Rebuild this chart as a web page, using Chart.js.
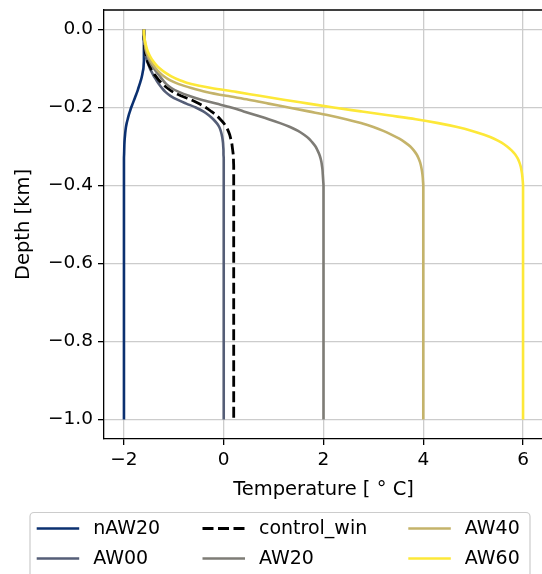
<!DOCTYPE html>
<html>
<head>
<meta charset="utf-8">
<title>Temperature profiles</title>
<script src="https://cdn.jsdelivr.net/npm/chart.js@4.4.0/dist/chart.umd.min.js"></script>
<style>
  html, body { margin: 0; padding: 0; background: #fff; overflow: hidden; }
  canvas { display: block; }
</style>
</head>
<body>
<canvas id="profiles" width="550" height="574"></canvas>
<script>
// depth levels in km (positive downward), shared by every run
const depth = [0, 0.01, 0.02, 0.03, 0.04, 0.05, 0.06, 0.07, 0.08, 0.09,
               0.10, 0.11, 0.12, 0.13, 0.14, 0.15, 0.16, 0.17, 0.18, 0.19,
               0.20, 0.21, 0.22, 0.23, 0.24, 0.25, 0.26, 0.27, 0.28, 0.29,
               0.30, 0.31, 0.32, 0.33, 0.34, 0.35, 0.36, 0.37, 0.38, 0.39,
               0.40, 0.5, 0.6, 0.8, 1.0];

// temperature (°C) at each depth level
const tempNAW20 = [-1.6, -1.6, -1.6, -1.6, -1.6, -1.6, -1.6, -1.6, -1.6, -1.605,
                   -1.61, -1.625, -1.64, -1.66, -1.685, -1.71, -1.735, -1.765, -1.795, -1.825,
                   -1.855, -1.88, -1.905, -1.925, -1.945, -1.96, -1.97, -1.978, -1.985, -1.99,
                   -1.993, -1.995, -1.997, -2, -2, -2, -2, -2, -2, -2,
                   -2, -2, -2, -2, -2];
const tempAW00 = [-1.6, -1.6, -1.6, -1.595, -1.59, -1.58, -1.57, -1.56, -1.54, -1.51,
                  -1.48, -1.44, -1.4, -1.35, -1.3, -1.24, -1.17, -1.07, -0.93, -0.75,
                  -0.56, -0.41, -0.3, -0.21, -0.14, -0.09, -0.06, -0.04, -0.025, -0.015,
                  -0.01, -0.005, -0.005, 0, 0, 0, 0, 0, 0, 0,
                  0, 0, 0, 0, 0];
const tempControl = [-1.6, -1.6, -1.6, -1.595, -1.59, -1.58, -1.57, -1.55, -1.53, -1.5,
                     -1.46, -1.42, -1.36, -1.3, -1.22, -1.13, -1.02, -0.86, -0.66, -0.5,
                     -0.36, -0.25, -0.15, -0.07, 0.0, 0.05, 0.09, 0.12, 0.14, 0.16,
                     0.17, 0.18, 0.19, 0.195, 0.197, 0.2, 0.2, 0.2, 0.2, 0.2,
                     0.2, 0.2, 0.2, 0.2, 0.2];
const tempAW20 = [-1.6, -1.6, -1.6, -1.59, -1.58, -1.57, -1.55, -1.52, -1.49, -1.45,
                  -1.4, -1.34, -1.28, -1.22, -1.15, -1.05, -0.9, -0.7, -0.45, -0.15,
                  0.15, 0.4, 0.65, 0.9, 1.13, 1.33, 1.49, 1.61, 1.71, 1.78,
                  1.84, 1.88, 1.915, 1.94, 1.958, 1.97, 1.98, 1.985, 1.99, 1.995,
                  2, 2, 2, 2, 2];
const tempAW40 = [-1.6, -1.6, -1.59, -1.58, -1.57, -1.555, -1.54, -1.51, -1.47, -1.42,
                  -1.36, -1.29, -1.2, -1.08, -0.9, -0.65, -0.35, 0.05, 0.5, 0.9,
                  1.3, 1.7, 2.1, 2.45, 2.75, 3.0, 3.2, 3.37, 3.52, 3.64,
                  3.74, 3.81, 3.865, 3.905, 3.935, 3.955, 3.97, 3.982, 3.99, 3.995,
                  4, 4, 4, 4, 4];
const tempAW60 = [-1.6, -1.6, -1.59, -1.58, -1.56, -1.54, -1.51, -1.47, -1.42, -1.36,
                  -1.28, -1.18, -1.05, -0.88, -0.65, -0.25, 0.25, 0.72, 1.2, 1.7,
                  2.2, 2.75, 3.3, 3.85, 4.3, 4.68, 4.98, 5.22, 5.42, 5.57,
                  5.68, 5.77, 5.84, 5.89, 5.925, 5.95, 5.967, 5.98, 5.988, 5.995,
                  6, 6, 6, 6, 6];

const xTicks = [-2, 0, 2, 4, 6];
const yTicks = [0, -0.2, -0.4, -0.6, -0.8, -1.0];

// legend columns, top to bottom
const legendCols = [['nAW20', 'AW00'], ['control_win', 'AW20'], ['AW40', 'AW60']];

const FONT = "'DejaVu Sans', sans-serif";
const minus = s => s.replace('-', '\u2212');

// later runs are drawn over earlier ones
function profile(label, temps, color, layer, dash) {
  return {
    label: label,
    data: depth.map((d, i) => ({ x: temps[i], y: -d })),
    borderColor: color,
    borderWidth: dash ? 2.8 : 2.6,
    borderDash: dash || [],
    pointRadius: 0,
    fill: false,
    order: 5 - layer,
    cubicInterpolationMode: 'monotone'
  };
}

// top and right spines
const topSpine = {
  id: 'topSpine',
  afterDatasetsDraw(chart) {
    const { ctx, chartArea } = chart;
    ctx.save();
    ctx.strokeStyle = '#000';
    ctx.lineWidth = 1.3;
    ctx.beginPath();
    ctx.moveTo(chartArea.left, chartArea.top);
    ctx.lineTo(chartArea.right, chartArea.top);
    ctx.lineTo(chartArea.right, chartArea.bottom);
    ctx.stroke();
    ctx.restore();
  }
};

// three-column legend under the x axis
const boxLegend = {
  id: 'boxLegend',
  afterDraw(chart) {
    const ctx = chart.ctx;
    const sets = chart.data.datasets;
    const handleX = [36.7, 202.5, 408.3];
    const rowY = [528.5, 558.5];
    ctx.save();
    ctx.fillStyle = '#fff';
    ctx.strokeStyle = '#cccccc';
    ctx.lineWidth = 1.2;
    ctx.beginPath();
    ctx.roundRect(30, 512.5, 500, 90, 4);
    ctx.fill();
    ctx.stroke();
    ctx.font = '19px ' + FONT;
    ctx.textBaseline = 'middle';
    legendCols.forEach((col, c) => {
      col.forEach((name, r) => {
        const ds = sets.find(s => s.label === name);
        const x0 = handleX[c], y = rowY[r];
        ctx.strokeStyle = ds.borderColor;
        ctx.lineWidth = ds.borderWidth;
        ctx.setLineDash(ds.borderDash);
        ctx.beginPath();
        ctx.moveTo(x0, y);
        ctx.lineTo(x0 + 42.5, y);
        ctx.stroke();
        ctx.setLineDash([]);
        ctx.fillStyle = '#000';
        ctx.fillText(name, x0 + 56.5, y + 1);
      });
    });
    ctx.restore();
  }
};

const ctx = document.getElementById('profiles');
const chart = new Chart(ctx, {
  type: 'line',
  data: {
    datasets: [
      profile('nAW20', tempNAW20, '#0b3070', 0),
      profile('AW00', tempAW00, '#555e77', 1),
      profile('control_win', tempControl, '#000000', 2, [11, 4.5]),
      profile('AW20', tempAW20, '#7e7c76', 3),
      profile('AW40', tempAW40, '#c4b36a', 4),
      profile('AW60', tempAW60, '#fde838', 5)
    ]
  },
  options: {
    responsive: false,
    animation: false,
    indexAxis: 'y',
    layout: { padding: { left: 0, top: 10, right: 7, bottom: 69 } },
    plugins: {
      legend: { display: false },
      tooltip: { enabled: false }
    },
    scales: {
      x: {
        type: 'linear',
        position: 'bottom',
        min: -2.4,
        max: 6.4,
        afterBuildTicks: axis => { axis.ticks = xTicks.map(v => ({ value: v })); },
        afterFit: scale => {
          scale.height = 66;
          scale.paddingLeft = 0;
          scale.paddingRight = 0;
        },
        ticks: {
          color: '#000',
          padding: 4,
          font: { family: FONT, size: 18.5 },
          callback: v => minus(String(v))
        },
        grid: { color: '#cccccc', lineWidth: 1.3, tickColor: '#000', tickLength: 6 },
        border: { color: '#000', width: 1.3 },
        title: {
          display: true,
          text: 'Temperature [ \u00b0 C]',
          color: '#000',
          font: { family: FONT, size: 19.5 },
          padding: { top: 0, bottom: 3 }
        }
      },
      y: {
        type: 'linear',
        position: 'left',
        min: -1.05,
        max: 0.05,
        afterBuildTicks: axis => { axis.ticks = yTicks.map(v => ({ value: v })); },
        afterFit: scale => {
          scale.width = 104;
          scale.paddingTop = 0;
          scale.paddingBottom = 0;
        },
        ticks: {
          color: '#000',
          padding: 5,
          font: { family: FONT, size: 18.5 },
          callback: v => minus(Number(v).toFixed(1))
        },
        grid: { color: '#cccccc', lineWidth: 1.3, tickColor: '#000', tickLength: 6 },
        border: { color: '#000', width: 1.3 },
        title: {
          display: true,
          text: 'Depth [km]',
          color: '#000',
          font: { family: FONT, size: 19.5 },
          padding: { top: 12, bottom: 0 }
        }
      }
    }
  },
  plugins: [topSpine, boxLegend]
});
</script>
</body>
</html>
